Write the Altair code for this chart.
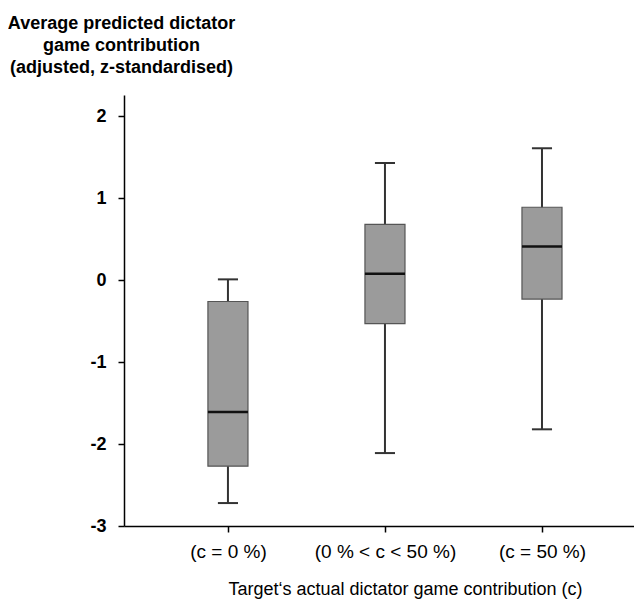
import json
import altair as alt
import pandas as pd

categories = ["(c = 0 %)", "(0 % < c < 50 %)", "(c = 50 %)"]
whisker_low = [-2.72, -2.11, -1.82]
q1 = [-2.27, -0.53, -0.23]
median = [-1.61, 0.08, 0.41]
q3 = [-0.26, 0.68, 0.89]
whisker_high = [0.01, 1.43, 1.61]
y_ticks = [-3, -2, -1, 0, 1, 2]

df = pd.DataFrame({
    "pos": list(range(len(categories))),
    "category": categories,
    "lo": whisker_low,
    "q1": q1,
    "med": median,
    "q3": q3,
    "hi": whisker_high,
})

label_expr = json.dumps(categories) + "[datum.value]"

x_scale = alt.Scale(domain=[-0.662, 2.586], nice=False, zero=False)
y_scale = alt.Scale(domain=[-3, 2.26], nice=False, zero=False)

x_axis = alt.Axis(
    values=[0, 1, 2], labelExpr=label_expr, grid=False,
    domainColor="black", domainWidth=1.5, tickColor="black", tickWidth=1.5, tickSize=6,
    labelFont="Liberation Sans", labelFontSize=19, labelColor="black", labelPadding=10,
    title="Target\u2018s actual dictator game contribution (c)",
    titleFont="Liberation Sans", titleFontSize=18, titleFontWeight="normal",
    titleColor="black", titlePadding=19, titleX=281, titleAlign="center",
)
y_axis = alt.Axis(
    values=y_ticks, labelExpr="'' + datum.value", grid=False,
    domainColor="black", domainWidth=1.5, tickColor="black", tickWidth=1.5, tickSize=6,
    labelFont="Liberation Sans", labelFontSize=18, labelFontWeight="bold",
    labelColor="black", labelPadding=12,
    title=["Average predicted dictator", "game contribution", "(adjusted, z-standardised)"],
    titleFont="Liberation Sans", titleFontSize=18, titleFontWeight="bold",
    titleColor="black", titleAngle=0, titleAlign="center", titleBaseline="top",
    titleX=-3, titleY=-81, titleLineHeight=22,
)

base = alt.Chart(df).transform_calculate(
    bl="datum.pos - 0.1275", br="datum.pos + 0.1275",
    cl="datum.pos - 0.064", cr="datum.pos + 0.064",
)

whisker = base.mark_rule(color="#333333", strokeWidth=2).encode(
    x=alt.X("pos:Q", scale=x_scale, axis=x_axis),
    y=alt.Y("lo:Q", scale=y_scale, axis=y_axis),
    y2="hi:Q",
)
cap_low = base.mark_rule(color="#333333", strokeWidth=2).encode(
    x="cl:Q", x2="cr:Q", y="lo:Q",
)
cap_high = base.mark_rule(color="#333333", strokeWidth=2).encode(
    x="cl:Q", x2="cr:Q", y="hi:Q",
)
box = base.mark_rect(fill="#9b9b9b", stroke="#555555", strokeWidth=1.2).encode(
    x="bl:Q", x2="br:Q", y="q1:Q", y2="q3:Q",
)
med = base.mark_rule(color="#111111", strokeWidth=2.5).encode(
    x="bl:Q", x2="br:Q", y="med:Q",
)

chart = alt.layer(whisker, cap_low, cap_high, box, med).properties(
    width=510, height=431,
    autosize=alt.AutoSizeParams(type="none"),
    padding={"left": 116, "top": 87, "right": 0, "bottom": 76},
).configure_view(stroke=None)

chart.save("out.html", embed_options={"renderer": "svg", "actions": False})
